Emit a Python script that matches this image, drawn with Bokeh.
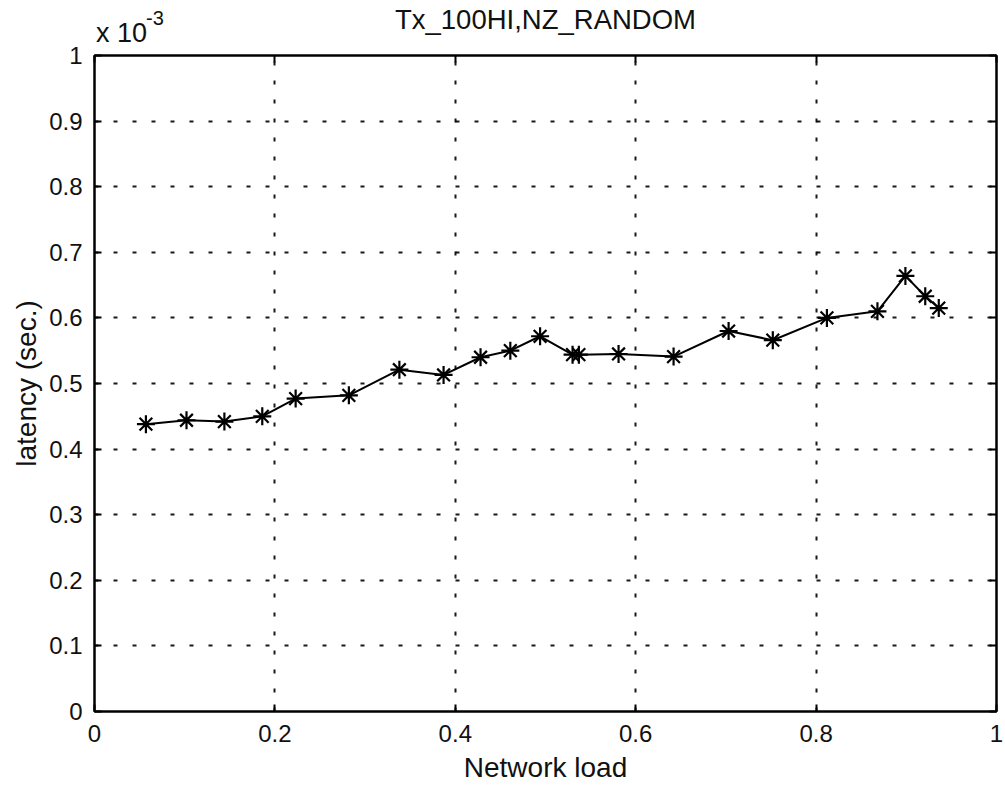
from bokeh.plotting import figure
from bokeh.models import LinearAxis, FixedTicker, Range1d
from bokeh.embed import file_html
from bokeh.resources import INLINE

# Data (latency in units of 1e-3 s)
network_load = [0.057, 0.102, 0.144, 0.186, 0.223, 0.282, 0.338, 0.387, 0.428, 0.461,
                0.494, 0.530, 0.537, 0.581, 0.642, 0.703, 0.752, 0.812, 0.868, 0.899,
                0.921, 0.936]
latency = [0.438, 0.444, 0.442, 0.450, 0.477, 0.482, 0.521, 0.513, 0.540, 0.550,
           0.572, 0.544, 0.544, 0.545, 0.541, 0.580, 0.566, 0.600, 0.610, 0.664,
           0.633, 0.615]

x_ticks = [0, 0.2, 0.4, 0.6, 0.8, 1.0]
x_tick_labels = ["0", "0.2", "0.4", "0.6", "0.8", "1"]
y_ticks = [0, 0.1, 0.2, 0.3, 0.4, 0.5, 0.6, 0.7, 0.8, 0.9, 1.0]
y_tick_labels = ["0", "0.1", "0.2", "0.3", "0.4", "0.5", "0.6", "0.7", "0.8", "0.9", "1"]
title_text = "Tx_100HI,NZ_RANDOM"
scale_text = "x 10"
exp_text = "-3"

FONT = "Liberation Sans"
INK = "#111111"

p = figure(width=1003, height=788, x_range=Range1d(0, 1), y_range=Range1d(0, 1),
           output_backend="svg", toolbar_location=None,
           min_border_left=94, min_border_right=7, min_border_top=55, min_border_bottom=77)

p.outline_line_color = "black"
p.outline_line_width = 2
p.outline_line_alpha = 1.0

for ax, ticks, labels in ((p.xaxis[0], x_ticks, x_tick_labels), (p.yaxis[0], y_ticks, y_tick_labels)):
    ax.ticker = FixedTicker(ticks=ticks)
    ax.major_label_overrides = {t: l for t, l in zip(ticks, labels)}
    ax.major_tick_in = 7
    ax.major_tick_out = 0
    ax.minor_tick_line_color = None
    ax.axis_line_width = 2
    ax.major_tick_line_width = 2
    ax.major_label_text_font = FONT
    ax.major_label_text_font_size = "24px"
    ax.major_label_text_color = INK
    ax.axis_label_text_font = FONT
    ax.axis_label_text_font_size = "28px"
    ax.axis_label_text_font_style = "normal"
    ax.axis_label_text_color = INK

p.xaxis.axis_label = "Network load"
p.yaxis.axis_label = "latency (sec.)"
p.xaxis.major_label_standoff = 13
p.yaxis.major_label_standoff = 12
p.xaxis.axis_label_standoff = 7
p.yaxis.axis_label_standoff = 4

# inner top axis: box ticks + "x 10" scale text at the left end
SCALE_POS = 0.030
EXP_POS = 0.067
top_ax = LinearAxis(ticker=FixedTicker(ticks=[SCALE_POS], minor_ticks=x_ticks),
                    major_label_overrides={SCALE_POS: scale_text},
                    major_label_text_font=FONT, major_label_text_font_size="27px",
                    major_label_text_color=INK, major_label_standoff=8,
                    major_tick_line_color=None, major_tick_in=0, major_tick_out=0,
                    minor_tick_in=7, minor_tick_out=0,
                    minor_tick_line_width=2, axis_line_width=2)
# outer top axis: exponent text + chart title
title_ax = LinearAxis(ticker=FixedTicker(ticks=[EXP_POS], minor_ticks=[]),
                      major_label_overrides={EXP_POS: exp_text},
                      major_label_text_font=FONT, major_label_text_font_size="20px",
                      major_label_text_color=INK, major_label_standoff=-10,
                      major_tick_line_color=None, major_tick_in=0, major_tick_out=0,
                      minor_tick_line_color=None, axis_line_color=None,
                      axis_label=title_text, axis_label_standoff=-27,
                      axis_label_text_font=FONT, axis_label_text_font_size="27.5px",
                      axis_label_text_font_style="normal", axis_label_text_color=INK)
p.add_layout(top_ax, "above")
p.add_layout(title_ax, "above")

right_ax = LinearAxis(ticker=FixedTicker(ticks=[], minor_ticks=y_ticks),
                      major_tick_line_color=None, minor_tick_in=7, minor_tick_out=0,
                      minor_tick_line_width=2, axis_line_width=2, major_label_standoff=0)
p.add_layout(right_ax, "right")

for g in (p.xgrid[0], p.ygrid[0]):
    g.grid_line_color = "black"
    g.grid_line_dash = "4 15"
    g.grid_line_width = 2
    g.grid_line_alpha = 0.9
p.xgrid.ticker = FixedTicker(ticks=x_ticks)
p.ygrid.ticker = FixedTicker(ticks=y_ticks)

p.line(network_load, latency, line_color="black", line_width=2)
p.scatter(network_load, latency, marker="asterisk", size=18, line_color="black", line_width=2.2)

open("out.html", "w").write(file_html(p, INLINE))
